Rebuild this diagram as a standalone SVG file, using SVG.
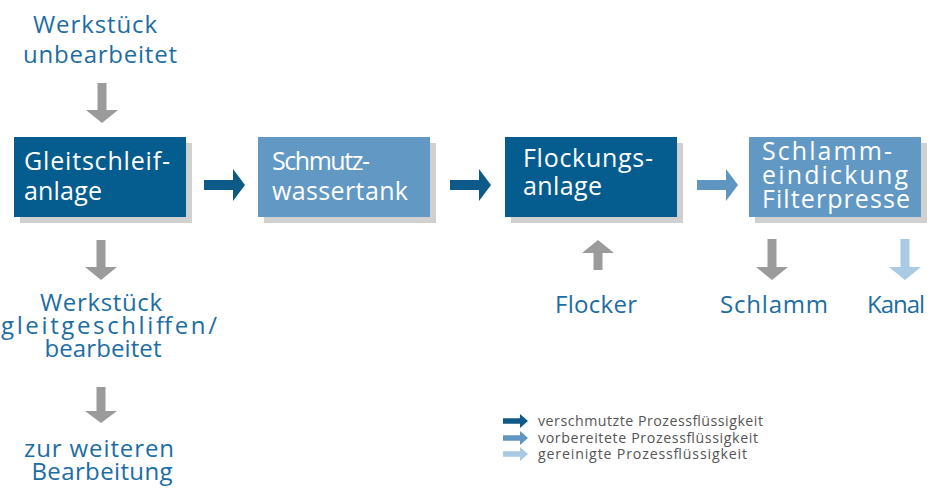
<svg xmlns="http://www.w3.org/2000/svg" width="937" height="492" viewBox="0 0 937 492">
<style>
.bg{fill:#ffffff}
.shadow{fill:#d0d0d0}
.dark{fill:#045c8f}
.light{fill:#6198c4}
.bt{font-family:"Open Sans","Noto Sans",sans-serif;font-size:25px;fill:#ffffff}
.ot{font-family:"Open Sans","Noto Sans",sans-serif;font-size:24px;fill:#1d6da3;text-anchor:middle}
.lt{font-family:"Open Sans","Noto Sans",sans-serif;font-size:14.2px;fill:#555555}
.a-dark{fill:#0d5a88}
.a-mid{fill:#5f95c1}
.a-light{fill:#aac9e2}
.a-gray{fill:#9b9b9b}
</style>
<defs>
<path id="harr" d="M0,-5H29V-16L41,0L29,16V5H0Z"/>
<path id="larr" d="M0,-2.8H17V-7L25,0L17,7V2.8H0Z"/>
</defs>
<rect class="bg" x="0" y="0" width="937" height="492"/>

<g id="node-werkstueck-unbearbeitet">
<text class="ot" x="95" y="33" textLength="124" lengthAdjust="spacing">Werkstück</text>
<text class="ot" x="100" y="63" textLength="154" lengthAdjust="spacing">unbearbeitet</text>
</g>

<g id="node-gleitschleifanlage">
<rect class="shadow" x="20" y="143" width="172" height="80"/>
<rect class="dark" x="14" y="137" width="172" height="80"/>
<text class="bt" x="24" y="170" textLength="146" lengthAdjust="spacing">Gleitschleif-</text>
<text class="bt" x="24" y="200" textLength="78" lengthAdjust="spacing">anlage</text>
</g>

<g id="node-schmutzwassertank">
<rect class="shadow" x="264" y="143" width="172" height="80"/>
<rect class="light" x="258" y="137" width="172" height="80"/>
<text class="bt" x="272" y="170" textLength="98" lengthAdjust="spacing">Schmutz-</text>
<text class="bt" x="272" y="200" textLength="136" lengthAdjust="spacing">wassertank</text>
</g>

<g id="node-flockungsanlage">
<rect class="shadow" x="511" y="143" width="172" height="80"/>
<rect class="dark" x="505" y="137" width="172" height="80"/>
<text class="bt" x="523" y="167" textLength="130" lengthAdjust="spacing">Flockungs-</text>
<text class="bt" x="523" y="195" textLength="79" lengthAdjust="spacing">anlage</text>
</g>

<g id="node-schlammeindickung">
<rect class="shadow" x="755" y="143" width="172" height="80"/>
<rect class="light" x="749" y="137" width="172" height="80"/>
<text class="bt" x="762" y="160" textLength="130" lengthAdjust="spacing">Schlamm-</text>
<text class="bt" x="762" y="184" textLength="146" lengthAdjust="spacing">eindickung</text>
<text class="bt" x="762" y="208" textLength="148" lengthAdjust="spacing">Filterpresse</text>
</g>

<g id="node-werkstueck-bearbeitet">
<text class="ot" x="101" y="311" textLength="122" lengthAdjust="spacing">Werkstück</text>
<text class="ot" x="109" y="334" textLength="216" lengthAdjust="spacing">gleitgeschliffen/</text>
<text class="ot" x="103" y="357" textLength="117" lengthAdjust="spacing">bearbeitet</text>
</g>

<g id="node-weitere-bearbeitung">
<text class="ot" x="99" y="457" textLength="150" lengthAdjust="spacing">zur weiteren</text>
<text class="ot" x="102" y="480" textLength="141" lengthAdjust="spacing">Bearbeitung</text>
</g>

<g id="node-flocker">
<text class="ot" x="596" y="313" textLength="82" lengthAdjust="spacing">Flocker</text>
</g>
<g id="node-schlamm">
<text class="ot" x="774" y="313" textLength="108" lengthAdjust="spacing">Schlamm</text>
</g>
<g id="node-kanal">
<text class="ot" x="896" y="313" textLength="58" lengthAdjust="spacing">Kanal</text>
</g>

<g id="connectors">
<path class="a-gray" d="M97.5,83V110H86L102,123L118,110H106.5V83Z"/>
<path class="a-gray" d="M96.5,240V267H85L101,280L117,267H105.5V240Z"/>
<path class="a-gray" d="M96.5,387V411H85L101,423L117,411H105.5V387Z"/>
<use href="#harr" class="a-dark" x="204" y="185"/>
<use href="#harr" class="a-dark" x="450" y="185"/>
<use href="#harr" class="a-mid" x="697" y="185"/>
<path class="a-gray" d="M593.5,270V253H582L598,240L614,253H602.5V270Z"/>
<path class="a-gray" d="M767.5,239V267H756L772,280L788,267H776.5V239Z"/>
<path class="a-light" d="M900.5,239V267H889L905,280L921,267H909.5V239Z"/>
</g>

<g id="legend">
<use href="#larr" class="a-dark" x="503" y="421"/>
<text class="lt" x="538" y="426" textLength="225" lengthAdjust="spacing">verschmutzte Prozessflüssigkeit</text>
<use href="#larr" class="a-mid" x="503" y="438"/>
<text class="lt" x="538" y="443" textLength="220" lengthAdjust="spacing">vorbereitete Prozessflüssigkeit</text>
<use href="#larr" class="a-light" x="503" y="454"/>
<text class="lt" x="538" y="459" textLength="209" lengthAdjust="spacing">gereinigte Prozessflüssigkeit</text>
</g>
</svg>
